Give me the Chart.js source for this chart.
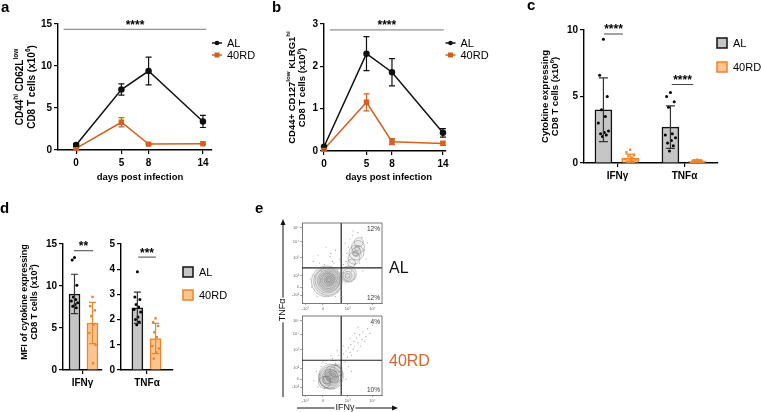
<!DOCTYPE html>
<html lang="en">
<head>
<meta charset="UTF-8">
<title>CD8 T cell responses AL vs 40RD</title>
<script src="https://cdn.jsdelivr.net/npm/chart.js"></script>
<style>
  html, body { margin: 0; padding: 0; background: #fff; }
  body { position: relative; width: 762px; height: 412px; overflow: hidden; }
  canvas { position: absolute; }
</style>
</head>
<body>
<canvas id="chartA" width="262" height="190" style="left:0px;top:0px"></canvas>
<canvas id="chartB" width="250" height="190" style="left:250px;top:0px"></canvas>
<canvas id="chartC" width="262" height="190" style="left:500px;top:0px"></canvas>
<canvas id="chartD1" width="105" height="222" style="left:0px;top:190px"></canvas>
<canvas id="chartD2" width="155" height="222" style="left:105px;top:190px"></canvas>
<canvas id="flowTop" width="205" height="217" style="left:255px;top:195px"></canvas>
<canvas id="flowBottom" width="205" height="217" style="left:255px;top:195px"></canvas>
<script>
var FONT = "'Liberation Sans', Arial, Helvetica, sans-serif";
var INK = '#111111';
var RUST = '#d5601d';
var GREY_FILL = '#c6c6c6';
var PEACH_FILL = '#fdc690';
var PEACH_LINE = '#ee842b';

// a / b : time course (x10^6 cells), mean and error
var days = [0, 5, 8, 14];
var effectorAL = [0.6, 7.2, 9.4, 3.4];
var effectorALerr = [0.15, 0.67, 1.65, 0.72];
var effector40 = [0.2, 3.3, 0.7, 0.75];
var effector40err = [0.08, 0.55, 0.1, 0.08];
var slecAL = [0.1, 2.3, 1.86, 0.43];
var slecALerr = [0.03, 0.4, 0.32, 0.1];
var slec40 = [0.04, 1.15, 0.22, 0.18];
var slec40err = [0.02, 0.2, 0.07, 0.05];

// c : cytokine expressing cells (x10^6)
var cytokines = ['IFNγ', 'TNFα'];
var countMeanAL = [4.0, 2.7];
var countSdAL = [2.4, 1.6];
var countMean40 = [0.36, 0.15];
var countSd40 = [0.3, 0.08];
var countPointsAL = [
  [9.3, 6.6, 5.0, 4.0, 3.5, 3.0, 2.4, 2.3, 2.2, 2.1, 2.0],
  [5.3, 5.0, 4.6, 4.2, 2.2, 2.1, 1.9, 1.7, 1.5, 1.3, 0.9]
];
var countPoints40 = [
  [1.0, 0.8, 0.6, 0.5, 0.4, 0.3, 0.25, 0.2, 0.1, 0.1, 0.05],
  [0.25, 0.2, 0.2, 0.15, 0.15, 0.1, 0.1, 0.1, 0.05, 0.05]
];

// d : MFI (x10^3)
var mfiMeanAL = [9.05, 2.47];
var mfiSdAL = [2.35, 0.62];
var mfiMean40 = [5.6, 1.25];
var mfiSd40 = [2.45, 0.6];
var mfiPointsAL = [
  [13.4, 13.1, 10.1, 8.7, 8.4, 8.2, 8.0, 7.8, 7.6, 7.4],
  [3.9, 2.9, 2.8, 2.6, 2.5, 2.4, 2.3, 2.1, 2.0, 1.9, 1.8]
];
var mfiPoints40 = [
  [8.7, 7.6, 7.1, 6.4, 5.4, 4.4, 3.0, 0.8],
  [2.05, 1.9, 1.75, 1.5, 1.3, 0.95, 0.85, 0.7, 0.45]
];

// e : flow plots (display units 0-100 on biexponential axes)
var flowXTicks = [4, 26, 57, 88];
var flowXLabels = ['-10³', '0', '10³', '10⁴'];
var flowYTicks = [10, 20, 34, 57, 77, 94];
var flowYLabels = ['-10²', '0', '10²', '10³', '10⁴', '10⁵'];
var gateX = 49, gateY = 44;
var alContours = [
  {x: 34, y: 29, r: 2}, {x: 34, y: 29, r: 3.5}, {x: 34, y: 29, r: 5}, {x: 33, y: 29, r: 6.5},
  {x: 33, y: 28, r: 8}, {x: 33, y: 28, r: 9.5}, {x: 33, y: 28, r: 11}, {x: 32, y: 28, r: 12.5},
  {x: 32, y: 27, r: 14}, {x: 31, y: 27, r: 15.5},
  {x: 57, y: 34, r: 2.5}, {x: 57, y: 34, r: 4.5}, {x: 58, y: 35, r: 6.5}, {x: 58, y: 36, r: 8},
  {x: 62, y: 50, r: 4}, {x: 65, y: 56, r: 6}, {x: 68, y: 63, r: 7.5}, {x: 70, y: 70, r: 6.5},
  {x: 71, y: 76, r: 4.5}, {x: 67, y: 62, r: 2.5}, {x: 69, y: 68, r: 2.5}, {x: 68, y: 64, r: 4.5}
];
var alEvents = [
  {x: 12, y: 20}, {x: 15, y: 35}, {x: 18, y: 45}, {x: 22, y: 50}, {x: 25, y: 12}, {x: 28, y: 48},
  {x: 40, y: 50}, {x: 44, y: 15}, {x: 45, y: 42}, {x: 47, y: 55}, {x: 50, y: 60}, {x: 52, y: 48},
  {x: 54, y: 25}, {x: 55, y: 52}, {x: 58, y: 70}, {x: 60, y: 45}, {x: 60, y: 80}, {x: 62, y: 40},
  {x: 63, y: 85}, {x: 65, y: 30}, {x: 66, y: 48}, {x: 72, y: 50}, {x: 74, y: 60}, {x: 75, y: 82},
  {x: 76, y: 40}, {x: 78, y: 66}, {x: 80, y: 55}, {x: 20, y: 60}, {x: 30, y: 70}, {x: 35, y: 58},
  {x: 42, y: 8}, {x: 10, y: 30}, {x: 48, y: 35}, {x: 52, y: 38}, {x: 56, y: 62}, {x: 64, y: 90},
  {x: 82, y: 75}, {x: 30, y: 10}, {x: 38, y: 52}, {x: 24, y: 40}, {x: 14, y: 52}, {x: 19, y: 8},
  {x: 46, y: 22}, {x: 50, y: 8}, {x: 36, y: 62}, {x: 42, y: 66}, {x: 54, y: 75}, {x: 70, y: 88}
];
var rdContours = [
  {x: 36, y: 23, r: 2}, {x: 36, y: 23, r: 3.5}, {x: 36, y: 23, r: 5}, {x: 35, y: 22, r: 6.5},
  {x: 35, y: 22, r: 8}, {x: 34, y: 21, r: 9.5}, {x: 35, y: 22, r: 11}, {x: 36, y: 23, r: 12.5},
  {x: 42, y: 30, r: 6}, {x: 45, y: 34, r: 4}, {x: 28, y: 16, r: 6}, {x: 40, y: 27, r: 9},
  {x: 31, y: 19, r: 4}
];
var rdEvents = [
  {x: 15, y: 18}, {x: 18, y: 30}, {x: 20, y: 10}, {x: 24, y: 36}, {x: 26, y: 42}, {x: 30, y: 40},
  {x: 34, y: 44}, {x: 38, y: 46}, {x: 42, y: 40}, {x: 45, y: 44}, {x: 46, y: 50}, {x: 48, y: 38},
  {x: 50, y: 47}, {x: 52, y: 52}, {x: 54, y: 42}, {x: 55, y: 56}, {x: 57, y: 48}, {x: 58, y: 60},
  {x: 60, y: 54}, {x: 61, y: 64}, {x: 62, y: 50}, {x: 64, y: 58}, {x: 65, y: 68}, {x: 66, y: 62},
  {x: 68, y: 72}, {x: 69, y: 56}, {x: 70, y: 66}, {x: 72, y: 76}, {x: 73, y: 62}, {x: 75, y: 70},
  {x: 76, y: 80}, {x: 78, y: 68}, {x: 80, y: 74}, {x: 82, y: 84}, {x: 58, y: 36}, {x: 62, y: 30},
  {x: 50, y: 28}, {x: 55, y: 20}, {x: 48, y: 12}, {x: 40, y: 8}, {x: 22, y: 26}, {x: 28, y: 8},
  {x: 44, y: 56}, {x: 52, y: 62}, {x: 60, y: 72}, {x: 66, y: 78}, {x: 70, y: 86}, {x: 36, y: 50},
  {x: 85, y: 78}, {x: 88, y: 88}
];
var alPercents = ['12%', '12%'];
var rdPercents = ['4%', '10%'];

// horizontal scatter of dots inside a bar (fraction of the spread)
var jitter = [0, -0.6, 0.6, -0.3, 0.3, -0.8, 0.8, 0.15, -0.45, 0.45, -0.15];

Chart.defaults.font.family = FONT;
Chart.defaults.color = '#000';
Chart.defaults.animation = false;
Chart.defaults.plugins.legend.display = false;
Chart.defaults.plugins.tooltip.enabled = false;
Chart.defaults.layout.autoPadding = false;

var errorBars = {
  id: 'errorBars',
  afterDatasetsDraw: function (chart) {
    var ctx = chart.ctx;
    chart.data.datasets.forEach(function (ds, i) {
      if (!ds.errors) return;
      var meta = chart.getDatasetMeta(i);
      var sy = chart.scales[meta.yAxisID];
      ctx.save();
      ctx.strokeStyle = ds.errorColor;
      ctx.lineWidth = 1.2;
      meta.data.forEach(function (el, j) {
        var raw = ds.data[j];
        var v = typeof raw === 'number' ? raw : raw.y;
        var top = sy.getPixelForValue(v + ds.errors[j]);
        var bot = sy.getPixelForValue(Math.max(0, v - ds.errors[j]));
        var cap = ds.errorCap || 3;
        ctx.beginPath();
        ctx.moveTo(el.x, top); ctx.lineTo(el.x, bot);
        ctx.moveTo(el.x - cap, top); ctx.lineTo(el.x + cap, top);
        ctx.moveTo(el.x - cap, bot); ctx.lineTo(el.x + cap, bot);
        ctx.stroke();
      });
      ctx.restore();
    });
  }
};
Chart.register(errorBars);

function drawRich(ctx, parts, x, y, size, rotate, color) {
  ctx.save();
  ctx.translate(x, y);
  if (rotate) ctx.rotate(-Math.PI / 2);
  var total = 0;
  parts.forEach(function (p) {
    ctx.font = 'bold ' + (p[1] ? size * 0.65 : size) + 'px ' + FONT;
    total += ctx.measureText(p[0]).width;
  });
  var cx = -total / 2;
  ctx.textBaseline = 'middle';
  ctx.textAlign = 'left';
  ctx.fillStyle = color || '#000';
  parts.forEach(function (p) {
    ctx.font = 'bold ' + (p[1] ? size * 0.65 : size) + 'px ' + FONT;
    ctx.fillText(p[0], cx, p[1] ? -size * 0.38 : 0);
    cx += ctx.measureText(p[0]).width;
  });
  ctx.restore();
}

function letter(ctx, s, x, y) {
  ctx.save();
  ctx.font = 'bold 15px ' + FONT;
  ctx.fillStyle = '#000';
  ctx.textAlign = 'left';
  ctx.textBaseline = 'alphabetic';
  ctx.fillText(s, x, y);
  ctx.restore();
}

function sig(chart, xAxis, x1, x2, yv, stars, color) {
  var ctx = chart.ctx, sx = chart.scales[xAxis], sy = chart.scales.y;
  var a = sx.getPixelForValue(x1), b = sx.getPixelForValue(x2), py = sy.getPixelForValue(yv);
  ctx.save();
  ctx.strokeStyle = color;
  ctx.lineWidth = 1;
  ctx.beginPath(); ctx.moveTo(a, py); ctx.lineTo(b, py); ctx.stroke();
  ctx.fillStyle = '#000';
  ctx.font = 'bold 12px ' + FONT;
  ctx.textAlign = 'center';
  ctx.textBaseline = 'alphabetic';
  ctx.fillText(stars, (a + b) / 2, py - 0.5);
  ctx.restore();
}

function lineLegend(ctx, x, y, label, color, style) {
  ctx.save();
  ctx.strokeStyle = color; ctx.fillStyle = color; ctx.lineWidth = 1.5;
  ctx.beginPath(); ctx.moveTo(x, y); ctx.lineTo(x + 10, y); ctx.stroke();
  if (style === 'rect') ctx.fillRect(x + 2.5, y - 2.5, 5, 5);
  else { ctx.beginPath(); ctx.arc(x + 5, y, 2.3, 0, Math.PI * 2); ctx.fill(); }
  ctx.font = '11px ' + FONT;
  ctx.fillStyle = '#000';
  ctx.textBaseline = 'middle';
  ctx.fillText(label, x + 15, y + 0.5);
  ctx.restore();
}

function boxLegend(ctx, x, y, label, fill, stroke) {
  ctx.save();
  ctx.fillStyle = fill; ctx.strokeStyle = stroke; ctx.lineWidth = 1.5;
  ctx.fillRect(x, y, 10, 10); ctx.strokeRect(x, y, 10, 10);
  ctx.font = '11px ' + FONT;
  ctx.fillStyle = '#000';
  ctx.textBaseline = 'middle';
  ctx.fillText(label, x + 16, y + 5.5);
  ctx.restore();
}

function yAxis(max, step, width) {
  return {
    min: 0, max: max,
    ticks: {stepSize: step, font: {size: 10, weight: 'bold'}, padding: 2, color: '#000'},
    grid: {drawOnChartArea: false, tickLength: 4, color: '#000', lineWidth: 1.2},
    border: {color: '#000', width: 1.4},
    afterFit: function (s) { s.width = width; }
  };
}

function tickOnly(height) {
  return {
    grid: {drawOnChartArea: false, tickLength: 4, color: '#000', lineWidth: 1.2, offset: false},
    border: {color: '#000', width: 1.4},
    afterFit: function (s) { s.height = height; }
  };
}

// ---------- a / b ----------
function timeCourse(id, al, alErr, rd, rdErr, o) {
  var xScale = tickOnly(o.xHeight);
  xScale.type = 'linear';
  xScale.min = o.xMin;
  xScale.max = o.xMax;
  xScale.afterBuildTicks = function (s) { s.ticks = days.map(function (d) { return {value: d}; }); };
  xScale.ticks = {font: {size: 10, weight: 'bold'}, padding: 3, color: '#000', autoSkip: false, maxRotation: 0};
  return new Chart(document.getElementById(id), {
    type: 'line',
    data: {
      datasets: [
        {
          label: 'AL', data: days.map(function (d, i) { return {x: d, y: al[i]}; }),
          borderColor: INK, backgroundColor: INK, borderWidth: 1.5, pointStyle: 'circle',
          pointRadius: 2.5, errors: alErr, errorColor: INK, errorCap: 3, clip: 10
        },
        {
          label: '40RD', data: days.map(function (d, i) { return {x: d, y: rd[i]}; }),
          borderColor: RUST, backgroundColor: RUST, borderWidth: 1.5, pointStyle: 'rect',
          pointRadius: 2.8, errors: rdErr, errorColor: RUST, errorCap: 3, clip: 10
        }
      ]
    },
    options: {
      responsive: false,
      layout: {padding: o.pad},
      scales: {x: xScale, y: yAxis(o.yMax, o.yStep, o.yWidth)}
    },
    plugins: [{
      id: 'deco',
      afterDraw: function (chart) {
        var ctx = chart.ctx, ca = chart.chartArea;
        letter(ctx, o.letter[0], o.letter[1], o.letter[2]);
        var cy = (ca.top + ca.bottom) / 2;
        drawRich(ctx, o.title[0], o.titleX[0], cy, o.titleSize, true);
        drawRich(ctx, o.title[1], o.titleX[1], cy, o.titleSize, true);
        drawRich(ctx, [['days post infection']], (ca.left + ca.right) / 2 + o.xTitleShift, 177, 9.5, false);
        sig(chart, 'x', o.sig[0], o.sig[1], o.sig[2], '****', '#777');
        lineLegend(ctx, ca.right, 43, 'AL', INK, 'circle');
        lineLegend(ctx, ca.right, 55, '40RD', RUST, 'rect');
      }
    }]
  });
}

timeCourse('chartA', effectorAL, effectorALerr, effector40, effector40err, {
  xMin: -2, xMax: 15, yMax: 15, yStep: 5, yWidth: 58, xHeight: 40,
  pad: {left: 0, top: 24, right: 50, bottom: 0},
  letter: ['a', 1, 12], titleX: [20, 32], titleSize: 10, xTitleShift: 5,
  title: [[['CD44'], ['hi', 1], [' CD62L'], ['low', 1]], [['CD8 T cells (x10'], ['6', 1], [')']]],
  sig: [-1.38, 14.38, 14.37]
});

timeCourse('chartB', slecAL, slecALerr, slec40, slec40err, {
  xMin: 0, xMax: 14.3, yMax: 3, yStep: 1, yWidth: 74, xHeight: 39,
  pad: {left: 0, top: 24, right: 54.5, bottom: 0},
  letter: ['b', 22, 12], titleX: [42, 52.5], titleSize: 9.5, xTitleShift: 4,
  title: [[['CD44+ CD127'], ['low', 1], [' KLRG1'], ['hi', 1]], [['CD8 T cells (x10'], ['6', 1], [')']]],
  sig: [0.7, 14.1, 2.86]
});

// ---------- c / d ----------
function place(values, centers) {
  return values.map(function (v, i) { return {x: centers[i], y: v}; });
}

function spread(groups, centers, half) {
  var out = [];
  groups.forEach(function (vals, i) {
    vals.forEach(function (v, k) {
      out.push({x: centers[i] + jitter[k % jitter.length] * half, y: v});
    });
  });
  return out;
}

function barPanel(id, labels, meanAL, sdAL, mean40, sd40, ptsAL, pts40, o) {
  var n = labels.length;
  var alCenters = labels.map(function (l, i) { return i + o.mid - o.shift; });
  var rdCenters = labels.map(function (l, i) { return i + o.mid + o.shift; });
  var xScale = tickOnly(o.xHeight);
  xScale.type = 'category';
  xScale.offset = true;
  xScale.ticks = {font: {size: 10, weight: 'bold'}, padding: 3, color: '#000'};
  return new Chart(document.getElementById(id), {
    data: {
      labels: labels,
      datasets: [
        {
          type: 'bar', label: 'AL', data: place(meanAL, alCenters), xAxisID: 'xs', grouped: false,
          barThickness: o.barPx, backgroundColor: GREY_FILL, borderColor: INK, borderWidth: 1.5, order: 2,
          errors: sdAL, errorColor: '#333', errorCap: o.cap
        },
        {
          type: 'bar', label: '40RD', data: place(mean40, rdCenters), xAxisID: 'xs', grouped: false,
          barThickness: o.barPx, backgroundColor: PEACH_FILL, borderColor: PEACH_LINE, borderWidth: 1.5, order: 2,
          errors: sd40, errorColor: PEACH_LINE, errorCap: o.cap
        },
        {
          type: 'scatter', data: spread(ptsAL, alCenters, o.spread), xAxisID: 'xs', order: 0,
          pointStyle: 'circle', pointRadius: 1.5, backgroundColor: '#000', borderWidth: 0
        },
        {
          type: 'scatter', data: spread(pts40, rdCenters, o.spread), xAxisID: 'xs', order: 0,
          pointStyle: 'rect', pointRadius: 1.7, backgroundColor: PEACH_LINE, borderWidth: 0
        }
      ]
    },
    options: {
      responsive: false,
      layout: {padding: o.pad},
      scales: {
        x: xScale,
        xs: {type: 'linear', display: false, offset: false, grid: {offset: false}, min: -0.5, max: n - 0.5},
        y: yAxis(o.yMax, o.yStep, o.yWidth)
      }
    },
    plugins: [{
      id: 'deco',
      afterDraw: function (chart) {
        var ctx = chart.ctx, ca = chart.chartArea;
        if (o.letter) letter(ctx, o.letter[0], o.letter[1], o.letter[2]);
        if (o.title) {
          var cy = (ca.top + ca.bottom) / 2 + (o.titleShift || 0);
          drawRich(ctx, o.title[0], o.titleX[0], cy, o.titleSize, true);
          drawRich(ctx, o.title[1], o.titleX[1], cy, o.titleSize, true);
        }
        o.sig.forEach(function (s) { sig(chart, 'xs', s[0], s[1], s[2], s[3], '#444'); });
        if (o.legend) {
          boxLegend(ctx, o.legend[0], o.legend[1], 'AL', GREY_FILL, INK);
          boxLegend(ctx, o.legend[0], o.legend[2], '40RD', PEACH_FILL, PEACH_LINE);
        }
      }
    }]
  });
}

barPanel('chartC', cytokines, countMeanAL, countSdAL, countMean40, countSd40, countPointsAL, countPoints40, {
  mid: -0.01, shift: 0.2, barPx: 17, spread: 0.095, cap: 4.5, yMax: 10, yStep: 5, yWidth: 84, xHeight: 27,
  pad: {left: 0, top: 30, right: 44, bottom: 0},
  letter: ['c', 27, 10], titleX: [45, 55.5], titleSize: 9.5,
  title: [[['Cytokine expressing']], [['CD8 T cells (x10'], ['6', 1], [')']]],
  sig: [[-0.2, 0.08, 9.7, '****'], [0.81, 1.13, 5.9, '****']],
  legend: [217, 38, 62]
});

barPanel('chartD1', [cytokines[0]], [mfiMeanAL[0]], [mfiSdAL[0]], [mfiMean40[0]], [mfiSd40[0]],
  [mfiPointsAL[0]], [mfiPoints40[0]], {
  mid: 0.025, shift: 0.23, barPx: 11, spread: 0.1, cap: 3.5, yMax: 15, yStep: 5, yWidth: 63, xHeight: 42,
  pad: {left: 0, top: 54, right: 3, bottom: 0},
  letter: ['d', 0, 23], titleX: [25, 35], titleSize: 9, titleShift: -5,
  title: [[['MFI of cytokine expressing']], [['CD8 T cells (x10'], ['3', 1], [')']]],
  sig: [[-0.22, 0.27, 14.2, '**']]
});

barPanel('chartD2', [cytokines[1]], [mfiMeanAL[1]], [mfiSdAL[1]], [mfiMean40[1]], [mfiSd40[1]],
  [mfiPointsAL[1]], [mfiPoints40[1]], {
  mid: -0.01, shift: 0.175, barPx: 11, spread: 0.08, cap: 3.5, yMax: 5, yStep: 1, yWidth: 16, xHeight: 42,
  pad: {left: 0, top: 54, right: 87, bottom: 0},
  sig: [[-0.17, 0.17, 4.48, '***']],
  legend: [78, 77, 100]
});

// ---------- e : flow plots ----------
function flowAxis(ticks, labels, horizontal) {
  var ax = {
    type: 'linear', min: 0, max: 100,
    afterBuildTicks: function (s) { s.ticks = ticks.map(function (v) { return {value: v}; }); },
    ticks: {
      font: {size: 4}, color: '#666', padding: 1, autoSkip: false, maxRotation: 0,
      callback: function (v, i) { return labels[i]; }
    },
    grid: {drawOnChartArea: false, tickLength: 2, color: '#666', lineWidth: 0.6},
    border: {color: '#555', width: 0.8}
  };
  if (horizontal) ax.afterFit = function (s) { s.height = 7; };
  else ax.afterFit = function (s) { s.width = 10; };
  return ax;
}

function flowPlot(id, contours, events, pad, percents, tag, tagColor, extra) {
  return new Chart(document.getElementById(id), {
    type: 'scatter',
    data: {
      datasets: [
        {type: 'scatter', data: events, pointRadius: 0.6, backgroundColor: '#a0a0a0', borderWidth: 0},
        {type: 'bubble', data: contours, backgroundColor: 'rgba(110,110,110,0.07)', borderColor: 'rgba(95,95,95,0.6)', borderWidth: 0.6},
        {type: 'line', data: [{x: gateX, y: 0}, {x: gateX, y: 100}], borderColor: '#222', borderWidth: 1.2, pointRadius: 0},
        {type: 'line', data: [{x: 0, y: gateY}, {x: 100, y: gateY}], borderColor: '#222', borderWidth: 1.2, pointRadius: 0}
      ]
    },
    options: {
      responsive: false,
      layout: {padding: pad},
      scales: {x: flowAxis(flowXTicks, flowXLabels, true), y: flowAxis(flowYTicks, flowYLabels, false)}
    },
    plugins: [{
      id: 'deco',
      afterDraw: function (chart) {
        var ctx = chart.ctx, ca = chart.chartArea;
        ctx.save();
        ctx.strokeStyle = '#555'; ctx.lineWidth = 0.8;
        ctx.beginPath();
        ctx.moveTo(ca.left, ca.top); ctx.lineTo(ca.right, ca.top); ctx.lineTo(ca.right, ca.bottom);
        ctx.stroke();
        ctx.font = '6.5px ' + FONT;
        ctx.fillStyle = '#333';
        ctx.textAlign = 'right';
        ctx.textBaseline = 'middle';
        ctx.fillText(percents[0], ca.right - 2, ca.top + 6);
        ctx.fillText(percents[1], ca.right - 2, ca.bottom - 5);
        ctx.font = '16px ' + FONT;
        ctx.fillStyle = tagColor;
        ctx.textAlign = 'left';
        ctx.fillText(tag, ca.right + 7, chart.scales.y.getPixelForValue(gateY) + 1);
        ctx.restore();
        if (extra) extra(chart);
      }
    }]
  });
}

flowPlot('flowTop', alContours, alEvents, {left: 37, top: 28, right: 78, bottom: 102}, alPercents, 'AL', '#111',
  function (chart) { letter(chart.ctx, 'e', 0, 18); });

flowPlot('flowBottom', rdContours, rdEvents, {left: 37, top: 121, right: 78, bottom: 10}, rdPercents, '40RD', '#d9652a',
  function (chart) {
    var ctx = chart.ctx;
    ctx.save();
    ctx.strokeStyle = '#111'; ctx.fillStyle = '#111'; ctx.lineWidth = 1;
    // vertical axis arrow (TNFα)
    ctx.beginPath(); ctx.moveTo(28, 202); ctx.lineTo(28, 28); ctx.stroke();
    ctx.beginPath(); ctx.moveTo(28, 24); ctx.lineTo(25.5, 30); ctx.lineTo(30.5, 30); ctx.closePath(); ctx.fill();
    // horizontal axis arrow (IFNγ)
    ctx.beginPath(); ctx.moveTo(42, 213); ctx.lineTo(139, 213); ctx.stroke();
    ctx.beginPath(); ctx.moveTo(143, 213); ctx.lineTo(137, 210.5); ctx.lineTo(137, 215.5); ctx.closePath(); ctx.fill();
    ctx.font = '9px ' + FONT;
    ctx.textAlign = 'center';
    ctx.textBaseline = 'middle';
    var w = ctx.measureText('IFNγ').width;
    ctx.fillStyle = '#fff'; ctx.fillRect(90 - w / 2 - 1, 207, w + 2, 10);
    ctx.fillStyle = '#111'; ctx.fillText('IFNγ', 90, 213);
    ctx.translate(28, 115);
    ctx.rotate(-Math.PI / 2);
    w = ctx.measureText('TNFα').width;
    ctx.fillStyle = '#fff'; ctx.fillRect(-w / 2 - 1, -5, w + 2, 10);
    ctx.fillStyle = '#111'; ctx.fillText('TNFα', 0, 0);
    ctx.restore();
  });
</script>
</body>
</html>
